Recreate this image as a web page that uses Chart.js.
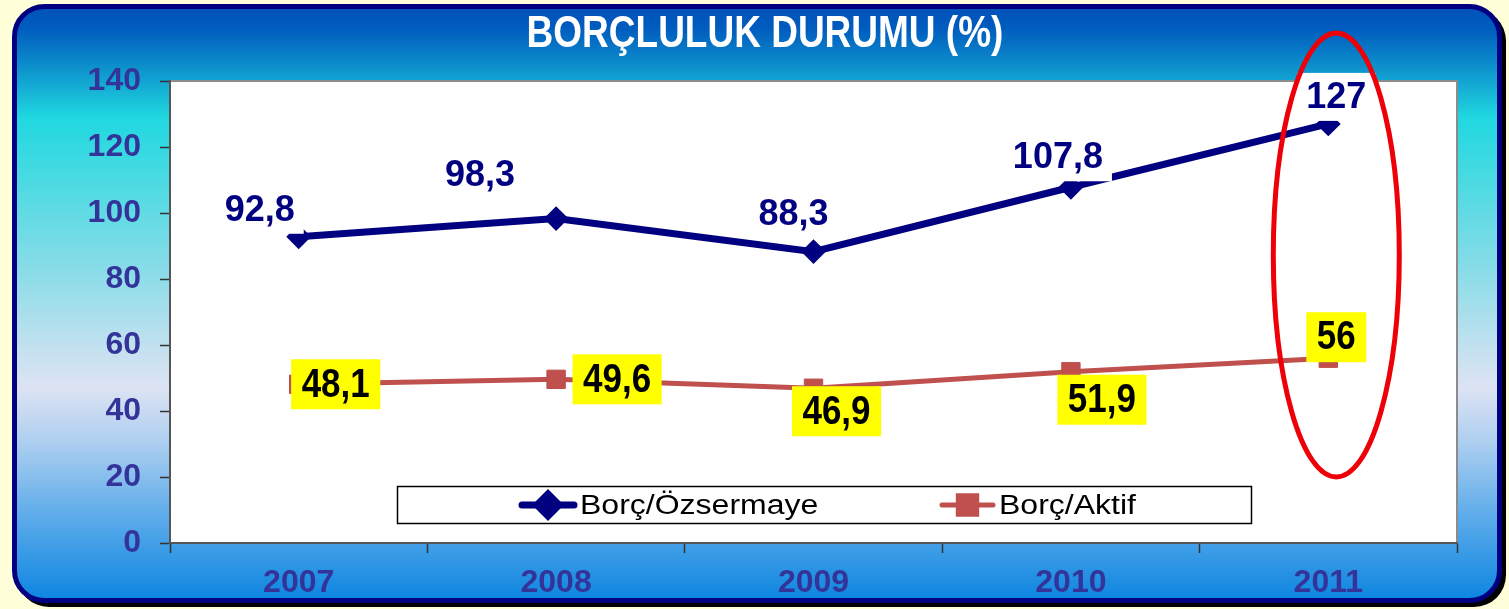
<!DOCTYPE html>
<html>
<head>
<meta charset="utf-8">
<script src="https://cdn.jsdelivr.net/npm/chart.js@4.4.1/dist/chart.umd.min.js"></script>
<style>
  html, body { margin: 0; padding: 0; background: #FFFFD9; }
</style>
</head>
<body>
<canvas id="graficoBorc" width="1509" height="609"></canvas>
<script>
// dados
const anos = ['2007', '2008', '2009', '2010', '2011'];
const borcOzsermaye = [92.8, 98.3, 88.3, 107.8, 127];
const borcAktif = [48.1, 49.6, 46.9, 51.9, 56];
const eixoY = [0, 20, 40, 60, 80, 100, 120, 140];
const titulo = 'BORÇLULUK DURUMU (%)';

const fonte = 'Liberation Sans, Arial, sans-serif';

// posicao dos rotulos em relacao ao ponto (px)
const deslocAzul = [[-39, -27], [-76, -44], [-20, -38], [-13, -30], [8, -27]];
const deslocVermelho = [[37, 0], [61, 0], [23, 23], [31, 28], [8, -21]];

function formata(v) {
  return String(v).replace('.', ',');
}

// texto esticado na vertical (o original e um pouco alto)
function textoEsticado(ctx, txt, x, y, k) {
  ctx.save();
  ctx.translate(x, y);
  ctx.scale(1, k);
  ctx.fillText(txt, 0, 0);
  ctx.restore();
}

function retanguloRedondo(ctx, x, y, w, h, r) {
  ctx.beginPath();
  ctx.moveTo(x + r, y);
  ctx.lineTo(x + w - r, y);
  ctx.arcTo(x + w, y, x + w, y + r, r);
  ctx.lineTo(x + w, y + h - r);
  ctx.arcTo(x + w, y + h, x + w - r, y + h, r);
  ctx.lineTo(x + r, y + h);
  ctx.arcTo(x, y + h, x, y + h - r, r);
  ctx.lineTo(x, y + r);
  ctx.arcTo(x, y, x + r, y, r);
  ctx.closePath();
}

// fundo com degrade, moldura e titulo
const fundo = {
  id: 'fundo',
  beforeDraw(chart) {
    const ctx = chart.ctx;
    const a = chart.chartArea;
    ctx.save();
    ctx.fillStyle = '#FFFFD9';
    ctx.fillRect(0, 0, chart.width, chart.height);

    retanguloRedondo(ctx, 17, 9, 1489, 598, 32);
    ctx.fillStyle = '#000';
    ctx.fill();

    const g = ctx.createLinearGradient(0, 4, 0, 603);
    g.addColorStop(0.00, '#0050B8');
    g.addColorStop(0.04, '#005CBE');
    g.addColorStop(0.10, '#0C8CCB');
    g.addColorStop(0.19, '#20D8E0');
    g.addColorStop(0.30, '#4DDAE2');
    g.addColorStop(0.45, '#8BDCE8');
    g.addColorStop(0.55, '#B8E0EE');
    g.addColorStop(0.64, '#DDE3F3');
    g.addColorStop(0.73, '#AECFF0');
    g.addColorStop(0.86, '#5AAAEA');
    g.addColorStop(1.00, '#0A84E0');
    retanguloRedondo(ctx, 14.5, 6.5, 1485, 594, 30);
    ctx.fillStyle = g;
    ctx.fill();
    ctx.lineWidth = 5;
    ctx.strokeStyle = '#000080';
    ctx.stroke();

    ctx.fillStyle = '#FFFFFF';
    ctx.fillRect(a.left, a.top, a.right - a.left, a.bottom - a.top);
    ctx.strokeStyle = '#8C8C8C';
    ctx.lineWidth = 2;
    ctx.beginPath();
    ctx.moveTo(a.left, a.top);
    ctx.lineTo(a.right, a.top);
    ctx.lineTo(a.right, a.bottom);
    ctx.stroke();

    ctx.fillStyle = '#FFFFFF';
    ctx.font = 'bold 37px ' + fonte;
    ctx.textAlign = 'center';
    ctx.textBaseline = 'middle';
    textoEsticado(ctx, titulo, 765, 35, 1.2);
    ctx.restore();
  }
};

// rotulos de valores
const estilosRotulo = [
  { desloc: deslocAzul, cor: '#000080', fundo: '#FFFFFF', fonteR: 'bold 36px ' + fonte, padX: 9, alt: 48, k: 1.03 },
  { desloc: deslocVermelho, cor: '#000000', fundo: '#FFFF00', fonteR: 'bold 35px ' + fonte, padX: 10.5, alt: 50, k: 1.17 }
];

const rotulos = {
  id: 'rotulos',
  afterDatasetsDraw(chart) {
    const ctx = chart.ctx;
    ctx.save();
    chart.data.datasets.forEach((ds, i) => {
      const meta = chart.getDatasetMeta(i);
      const cfg = estilosRotulo[i];
      meta.data.forEach((pt, j) => {
        const txt = formata(ds.data[j]);
        ctx.font = cfg.fonteR;
        const w = ctx.measureText(txt).width;
        const cx = pt.x + cfg.desloc[j][0];
        const cy = pt.y + cfg.desloc[j][1];
        ctx.fillStyle = cfg.fundo;
        ctx.fillRect(cx - w / 2 - cfg.padX, cy - cfg.alt / 2, w + 2 * cfg.padX, cfg.alt);
        ctx.fillStyle = cfg.cor;
        ctx.textAlign = 'center';
        ctx.textBaseline = 'middle';
        textoEsticado(ctx, txt, cx, cy + 1, cfg.k);
      });
    });
    ctx.restore();
  }
};

// legenda dentro da area e elipse vermelha
const legendaElipse = {
  id: 'legendaElipse',
  afterDraw(chart) {
    const ctx = chart.ctx;
    ctx.save();
    // caixa da legenda
    ctx.fillStyle = '#FFFFFF';
    ctx.fillRect(397, 486, 855, 38);
    ctx.strokeStyle = '#000';
    ctx.lineWidth = 1.5;
    ctx.strokeRect(397.5, 486.5, 854, 37);

    const itens = [
      { x1: 519, x2: 577, texto: 'Borç/Özsermaye', ds: chart.data.datasets[0] },
      { x1: 939, x2: 996, texto: 'Borç/Aktif', ds: chart.data.datasets[1] }
    ];
    itens.forEach(it => {
      const y = 505;
      ctx.strokeStyle = it.ds.borderColor;
      ctx.lineWidth = it.ds.borderWidth;
      ctx.lineCap = 'round';
      ctx.beginPath();
      ctx.moveTo(it.x1 + 3, y);
      ctx.lineTo(it.x2 - 3, y);
      ctx.stroke();
      Chart.helpers.drawPoint(ctx, {
        pointStyle: it.ds.pointStyle,
        radius: it.ds.pointRadius,
        borderWidth: it.ds.pointBorderWidth
      }, (it.x1 + it.x2) / 2, y);
      ctx.fillStyle = it.ds.backgroundColor;
      ctx.fill();
      ctx.fillStyle = '#000';
      ctx.font = '32px ' + fonte;
      ctx.textAlign = 'left';
      ctx.textBaseline = 'middle';
      textoEsticado(ctx, it.texto, it.x2 + 3, y + 1, 0.88);
    });

    // elipse em torno de 2011
    const xs = chart.scales.x;
    const cx = xs.getPixelForValue(anos.length - 1) + 8;
    ctx.strokeStyle = '#EE0008';
    ctx.lineWidth = 5;
    ctx.beginPath();
    ctx.ellipse(cx, 255, 63, 222, 0, 0, Math.PI * 2);
    ctx.stroke();
    ctx.restore();
  }
};

const rotuloEixo = { size: 32, weight: 'bold', family: fonte };

const graficoBorc = new Chart(document.getElementById('graficoBorc'), {
  type: 'line',
  data: {
    labels: anos,
    datasets: [{
      label: 'Borç/Özsermaye',
      data: borcOzsermaye,
      borderColor: '#000080',
      backgroundColor: '#000080',
      borderWidth: 7,
      pointStyle: 'rectRot',
      pointRadius: 11,
      pointBorderWidth: 2,
      tension: 0,
      order: 1
    }, {
      label: 'Borç/Aktif',
      data: borcAktif,
      borderColor: '#C0504D',
      backgroundColor: '#C0504D',
      borderWidth: 5,
      pointStyle: 'rect',
      pointRadius: 13,
      pointBorderWidth: 1,
      tension: 0,
      order: 2
    }]
  },
  options: {
    responsive: false,
    animation: false,
    devicePixelRatio: 1,
    layout: { padding: { top: 81, right: 52, bottom: 0, left: 0 } },
    plugins: {
      legend: { display: false },
      title: { display: false },
      tooltip: { enabled: false }
    },
    scales: {
      x: {
        offset: true,
        grid: { offset: true, drawOnChartArea: false, tickLength: 10, tickColor: '#333', tickWidth: 1.5 },
        border: { color: '#555', width: 2 },
        ticks: { color: '#333399', font: rotuloEixo, padding: 11 },
        afterFit(s) { s.height = 66; }
      },
      y: {
        min: 0,
        max: 140,
        afterBuildTicks(s) { s.ticks = eixoY.map(v => ({ value: v })); },
        grid: { drawOnChartArea: false, tickLength: 10, tickColor: '#333', tickWidth: 1.5 },
        border: { color: '#555', width: 2 },
        ticks: { color: '#333399', font: rotuloEixo, padding: 19 },
        afterFit(s) { s.width = 170; }
      }
    }
  },
  plugins: [fundo, rotulos, legendaElipse]
});
</script>
</body>
</html>
